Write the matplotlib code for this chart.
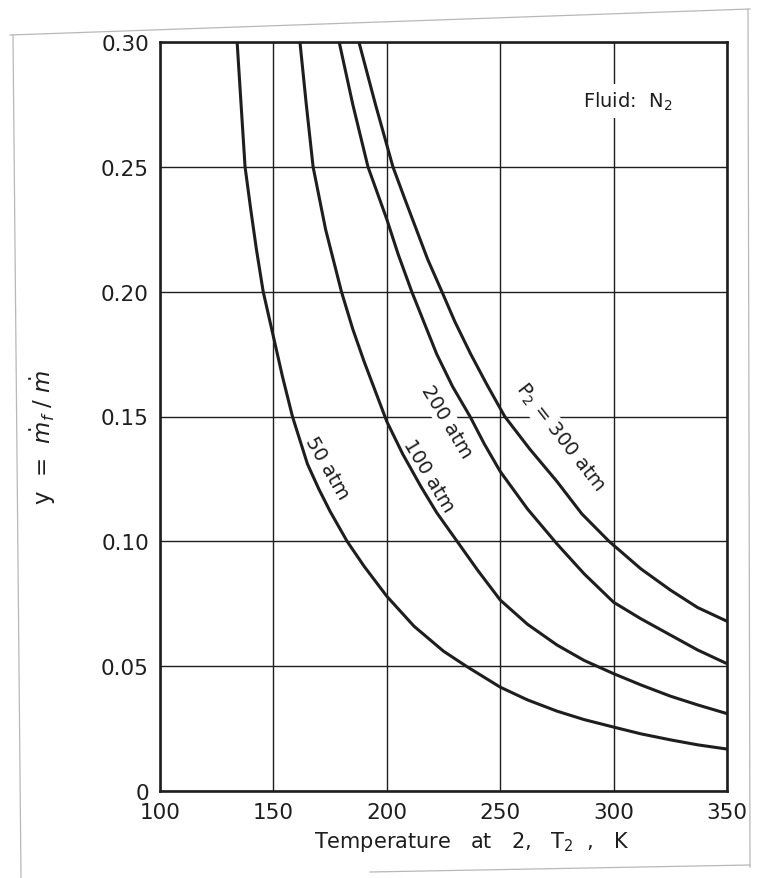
import matplotlib
matplotlib.use("Agg")
import matplotlib.pyplot as plt
from matplotlib.lines import Line2D

# ---- data ----
T_50 = [134.0, 137.5, 140.0, 142.5, 145.5, 150.0, 154.0, 158.4, 165.0, 170.0, 175.0,
        182.5, 190.0, 200.0, 212.0, 225.0, 235.0, 250.0, 262.0, 275.0, 287.0, 300.0,
        312.0, 325.0, 337.0, 350.0]
y_50 = [0.300, 0.250, 0.233, 0.217, 0.200, 0.182, 0.166, 0.150, 0.131, 0.121, 0.112,
        0.100, 0.090, 0.078, 0.066, 0.056, 0.050, 0.0416, 0.0365, 0.032, 0.0286, 0.0256,
        0.0229, 0.0205, 0.0185, 0.0168]

T_100 = [161.7, 164.5, 167.5, 173.0, 180.0, 185.0, 190.0, 195.0, 200.0, 207.0, 215.0,
         222.0, 231.0, 240.0, 250.0, 262.0, 275.0, 287.0, 300.0, 312.0, 325.0, 337.0, 350.0]
y_100 = [0.300, 0.275, 0.250, 0.225, 0.200, 0.185, 0.172, 0.160, 0.148, 0.135, 0.122,
         0.1115, 0.100, 0.0885, 0.0765, 0.0668, 0.0585, 0.0523, 0.047, 0.0425, 0.038, 0.0345,
         0.031]

T_200 = [179.0, 185.0, 191.7, 200.0, 205.0, 211.0, 222.0, 229.0, 236.7, 243.0, 250.0,
         262.0, 275.0, 287.0, 300.0, 312.0, 325.0, 337.0, 350.0]
y_200 = [0.300, 0.275, 0.250, 0.229, 0.215, 0.200, 0.175, 0.162, 0.150, 0.139, 0.128,
         0.113, 0.099, 0.087, 0.0756, 0.069, 0.0625, 0.0565, 0.051]

T_300 = [187.7, 195.0, 202.7, 208.0, 213.0, 218.0, 224.3, 230.0, 237.0, 244.0, 252.0,
         263.0, 275.0, 286.0, 298.0, 312.0, 325.0, 337.0, 350.0]
y_300 = [0.300, 0.275, 0.250, 0.237, 0.225, 0.213, 0.200, 0.188, 0.175, 0.163, 0.150,
         0.137, 0.124, 0.111, 0.100, 0.089, 0.0805, 0.0735, 0.068]

curve_labels = ["50 atm", "100 atm", "200 atm", "P$_2$ = 300 atm"]

x_ticks = [100, 150, 200, 250, 300, 350]
x_tick_labels = ["100", "150", "200", "250", "300", "350"]
y_ticks = [0, 0.05, 0.10, 0.15, 0.20, 0.25, 0.30]
y_tick_labels = ["0", "0.05", "0.10", "0.15", "0.20", "0.25", "0.30"]

# ---- figure ----
W, H = 759, 879
INK = "#1e1e1e"
fig = plt.figure(figsize=(W / 100, H / 100), dpi=100)
fig.patch.set_facecolor("white")
ax = fig.add_axes([160 / W, 1 - 792 / H, (727 - 160) / W, (792 - 43) / H])
ax.set_xlim(100, 350)
ax.set_ylim(0, 0.30)
ax.set_xticks(x_ticks)
ax.set_xticklabels(x_tick_labels)
ax.set_yticks(y_ticks)
ax.set_yticklabels(y_tick_labels)
ax.grid(True, color=INK, lw=1.0, zorder=1)
ax.set_axisbelow(True)
ax.tick_params(length=0, labelsize=15.5, colors=INK)
ax.tick_params(axis="x", pad=8)
ax.tick_params(axis="y", pad=8)
for s in ax.spines.values():
    s.set_linewidth(1.9)
    s.set_color(INK)
    s.set_zorder(5)

for T, y in [(T_50, y_50), (T_100, y_100), (T_200, y_200), (T_300, y_300)]:
    ax.plot(T, y, color=INK, lw=2.2, solid_joinstyle="round", zorder=3)

bbox = dict(facecolor="white", edgecolor="none", pad=1.0)
label_pos = [(173.6, 0.1298, -60), (218.6, 0.1266, -59), (226.5, 0.148, -59),
             (276.5, 0.1418, -52)]
for txt, (tx, ty, rot) in zip(curve_labels, label_pos):
    ax.text(tx, ty, txt, rotation=rot, rotation_mode="anchor", ha="center", va="center",
            fontsize=14, color=INK, bbox=bbox, zorder=2.5)

ax.text(286.5, 0.2763, "Fluid:  N$_2$", ha="left", va="center", fontsize=14,
        color=INK, bbox=dict(facecolor="white", edgecolor="none", pad=4), zorder=4)

ax.set_xlabel("Temperature   at   2,   T$_2$  ,   K", fontsize=15, color=INK)
ax.xaxis.set_label_coords((472 - 160) / 567, (792 - 830) / 749)
ax.set_ylabel(r"y  =  $\dot{m}_f$ / $\dot{m}$", fontsize=16.5, color=INK)
ax.yaxis.set_label_coords((58 - 160) / 567, (792 - 437) / 749)

# faint paper edges of the scanned page
def fl(x0, y0, x1, y1):
    fig.add_artist(Line2D([x0 / W, x1 / W], [1 - y0 / H, 1 - y1 / H],
                          transform=fig.transFigure, color="0.72", lw=0.9))
fl(10, 36, 750, 10)
fl(13, 36, 21, 879)
fl(748, 10, 750, 868)
fl(370, 873, 750, 866)

fig.savefig("out.png", dpi=100, facecolor="white")
